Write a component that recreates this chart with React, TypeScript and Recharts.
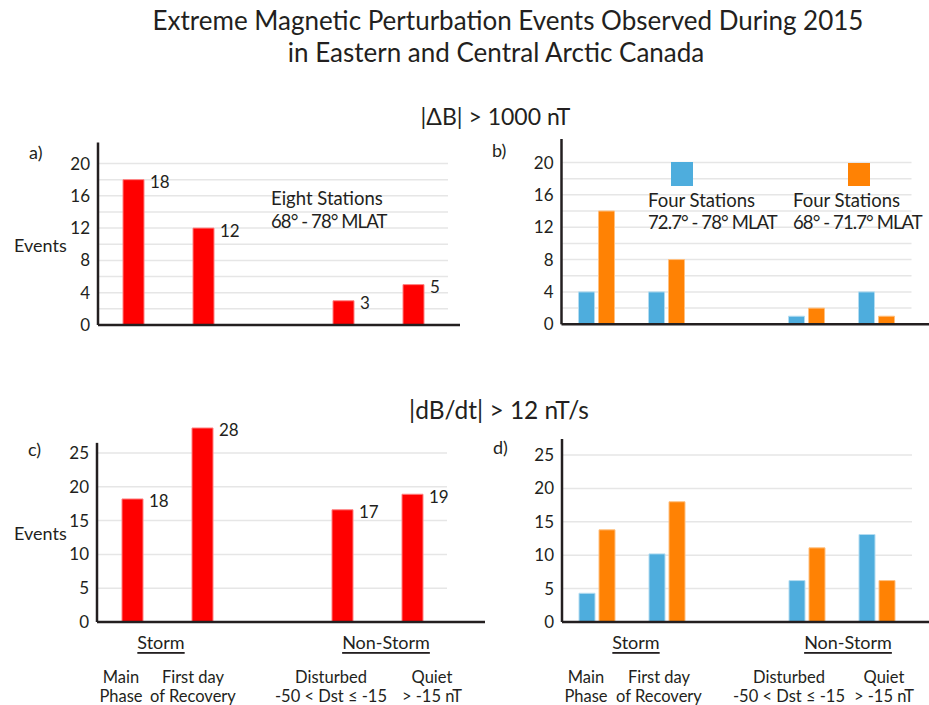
import React from 'react';
import { BarChart, Bar, XAxis, YAxis, CartesianGrid, ReferenceLine, Legend, LabelList } from 'recharts';

const FONT = 'Lato, "Noto Sans", sans-serif';
const INK = '#231f20';
const RED = '#ff0000';
const BLUE = '#4eaddd';
const ORANGE = '#ff8204';
const GRID = '#e6e6e6';

// ---------- data ----------
const categories = ['main', 'recovery', 'gap', 'disturbed', 'quiet'];
const phaseLine1 = ['Main', 'First day', '', 'Disturbed', 'Quiet'];
const phaseLine2 = ['Phase', 'of Recovery', '', '-50 < Dst ≤ -15', '> -15 nT'];
const groupLabels = ['Storm', '', '', 'Non-Storm', ''];

// a) |ΔB| > 1000 nT, eight stations
const aValues = [18, 12, null, 3, 5];
const aLabels = [18, 12, null, 3, 5];
// b) |ΔB| > 1000 nT, high / low latitude groups
const bHigh = [4, 4, null, 1, 4];
const bLow = [14, 8, null, 2, 1];
// c) |dB/dt| > 12 nT/s, eight stations
const cValues = [18.2, 28.7, null, 16.6, 18.9];
const cLabels = [18, 28, null, 17, 19];
// d) |dB/dt| > 12 nT/s, high / low latitude groups
const dHigh = [4.3, 10.2, null, 6.2, 13.1];
const dLow = [13.8, 18, null, 11.1, 6.2];

const abGridValues = [0, 2, 4, 6, 8, 10, 12, 14, 16, 18, 20];
const abTickLabels = [0, 4, 8, 12, 16, 20];
const cdGridValues = [0, 5, 10, 15, 20, 25];
const cdTickLabels = [0, 5, 10, 15, 20, 25];

const singleSeries = [{ key: 'v', name: 'Eight Stations', range: '68° - 78° MLAT', color: RED, edge: '#ff8080' }];
const pairSeries = [
  { key: 'high', name: 'Four Stations', range: '72.7° - 78° MLAT', color: BLUE, edge: '#b3dcf1' },
  { key: 'low', name: 'Four Stations', range: '68° - 71.7° MLAT', color: ORANGE, edge: '#ffc080' },
];

const aData = categories.map((c, i) => ({ cat: c, v: aValues[i], label: aLabels[i] }));
const bData = categories.map((c, i) => ({ cat: c, high: bHigh[i], low: bLow[i] }));
const cData = categories.map((c, i) => ({ cat: c, v: cValues[i], label: cLabels[i] }));
const dData = categories.map((c, i) => ({ cat: c, high: dHigh[i], low: dLow[i] }));

// ---------- components ----------
const ValueLabel = (p: any) => {
  if (p.value === null || p.value === undefined) return null;
  return (
    <text
      x={Number(p.x) + Number(p.width) + 6}
      y={Number(p.y) + 2}
      dominantBaseline="central"
      fontSize={17}
      fontFamily={FONT}
      fill={INK}
    >
      {p.value}
    </text>
  );
};

const PhaseTick = (props: any) => {
  const { x, y, payload, shifts, groupShifts } = props;
  const i = payload.index ?? props.index;
  const half = typeof payload.offset === 'number' && payload.offset > 0 ? payload.offset : 35;
  const cx = x + shifts[i];
  const common = { fontFamily: FONT, fill: INK, textAnchor: 'middle' as const, dominantBaseline: 'central' as const };
  return (
    <g>
      {groupLabels[i] ? (
        <text x={x + half + groupShifts[i]} y={y + 20} fontSize={18} style={{ textDecoration: 'underline' }} {...common}>
          {groupLabels[i]}
        </text>
      ) : null}
      {phaseLine1[i] ? (
        <text x={cx} y={y + 55} fontSize={16.5} {...common}>
          {phaseLine1[i]}
        </text>
      ) : null}
      {phaseLine2[i] ? (
        <text x={cx} y={y + 74} fontSize={16.5} {...common}>
          {phaseLine2[i]}
        </text>
      ) : null}
    </g>
  );
};

type LegendSpot = { textX: number; y1: number; y2: number; swatch?: { x: number; y: number; w: number; h: number } };

const makeLegend = (series: any[], spots: LegendSpot[]) => (props: any) => {
  const payload = props.payload && props.payload.length ? props.payload : series.map((s) => ({ value: s.name, color: s.color }));
  return (
    <div style={{ position: 'relative', width: 0, height: 0 }}>
      {payload.map((entry: any, i: number) => {
        const spot = spots[i];
        const s = series[i];
        if (!spot || !s) return null;
        const txt: React.CSSProperties = {
          position: 'absolute',
          left: spot.textX,
          fontFamily: FONT,
          fontSize: 18.5,
          lineHeight: '22px',
          color: INK,
          whiteSpace: 'nowrap',
        };
        return (
          <React.Fragment key={i}>
            {spot.swatch ? (
              <div
                style={{
                  position: 'absolute',
                  left: spot.swatch.x,
                  top: spot.swatch.y,
                  width: spot.swatch.w,
                  height: spot.swatch.h,
                  background: s.color,
                }}
              />
            ) : null}
            <div style={{ ...txt, top: spot.y1 - 11 }}>{entry.value ?? s.name}</div>
            <div style={{ ...txt, top: spot.y2 - 11, letterSpacing: '-0.9px' }}>{s.range}</div>
          </React.Fragment>
        );
      })}
    </div>
  );
};

type PanelProps = {
  left: number;
  top: number;
  width: number;
  height: number;
  margin: { top: number; right: number; bottom: number; left: number };
  data: any[];
  series: any[];
  yMax: number;
  axisTop: number;
  axisEnd: number;
  xMax: number;
  gridValues: number[];
  tickLabels: number[];
  barSize: number;
  withLabels: boolean;
  showX: boolean;
  shifts?: number[];
  groupShifts?: number[];
  legendSpots?: LegendSpot[];
};

const Panel = (p: PanelProps) => (
  <div style={{ position: 'absolute', left: p.left, top: p.top, width: p.width, height: p.height }}>
    <BarChart width={p.width} height={p.height} data={p.data} margin={p.margin} barGap={4} barCategoryGap={0}>
      <CartesianGrid vertical={false} stroke={GRID} strokeWidth={1.5} horizontalValues={p.gridValues} />
      <XAxis
        dataKey="cat"
        hide={!p.showX}
        height={p.showX ? 80 : 0}
        axisLine={false}
        tickLine={false}
        tickSize={0}
        tickMargin={0}
        interval={0}
        tick={p.showX ? (t: any) => <PhaseTick {...t} shifts={p.shifts} groupShifts={p.groupShifts} /> : false}
      />
      <XAxis xAxisId="n" type="number" domain={[0, 5]} allowDataOverflow hide />
      <YAxis
        width={50}
        domain={[0, p.yMax]}
        ticks={p.gridValues}
        interval={0}
        axisLine={false}
        tickLine={false}
        tickSize={0}
        tickMargin={8}
        tick={{ fill: INK, fontSize: 17, fontFamily: FONT }}
        tickFormatter={(v: number) => (p.tickLabels.includes(v) ? String(v) : '')}
      />
      {p.legendSpots ? (
        <Legend
          layout="horizontal"
          verticalAlign="middle"
          align="center"
          wrapperStyle={{ left: 0, top: 0, width: 0, height: 0 }}
          content={makeLegend(p.series, p.legendSpots)}
        />
      ) : null}
      {p.series.map((s) => (
        <Bar
          key={s.key}
          dataKey={s.key}
          name={s.name}
          fill={s.color}
          stroke={s.edge}
          strokeWidth={1}
          barSize={p.barSize}
          isAnimationActive={false}
        >
          {p.withLabels ? <LabelList dataKey="label" content={ValueLabel} /> : null}
        </Bar>
      ))}
      <ReferenceLine
        xAxisId="n"
        segment={[{ x: 0, y: 0 }, { x: p.axisEnd, y: 0 }]}
        stroke={INK}
        strokeWidth={2.5}
        ifOverflow="visible"
      />
      <ReferenceLine
        xAxisId="n"
        segment={[{ x: 0, y: 0 }, { x: 0, y: p.axisTop }]}
        stroke={INK}
        strokeWidth={2.5}
        ifOverflow="visible"
      />
    </BarChart>
  </div>
);

const textStyle = { fontFamily: FONT, fill: INK };

export default function App() {
  return (
    <div style={{ position: 'absolute', left: 0, top: 0, width: 929, height: 705, background: '#fff', overflow: 'hidden' }}>
      <Panel
        left={0}
        top={100}
        width={460}
        height={240}
        margin={{ top: 42.5, right: 12, bottom: 15, left: 48 }}
        data={aData}
        series={singleSeries}
        yMax={22.6}
        axisTop={22.6}
        axisEnd={4.55}
        xMax={5}
        gridValues={abGridValues}
        tickLabels={abTickLabels}
        barSize={21}
        withLabels
        showX={false}
        legendSpots={[{ textX: 271, y1: 98, y2: 121 }]}
      />
      <Panel
        left={460}
        top={100}
        width={469}
        height={240}
        margin={{ top: 39, right: 17.5, bottom: 15.7, left: 51.5 }}
        data={bData}
        series={pairSeries}
        yMax={22.9}
        axisTop={22.9}
        axisEnd={4.74}
        xMax={5}
        gridValues={abGridValues}
        tickLabels={abTickLabels}
        barSize={16}
        withLabels={false}
        showX={false}
        legendSpots={[
          { textX: 188, y1: 100, y2: 122, swatch: { x: 211, y: 62, w: 22, h: 24 } },
          { textX: 333, y1: 100, y2: 122, swatch: { x: 388, y: 63, w: 22, h: 23 } },
        ]}
      />
      <Panel
        left={0}
        top={400}
        width={485}
        height={305}
        margin={{ top: 19.2, right: 38, bottom: 3, left: 47 }}
        data={cData}
        series={singleSeries}
        yMax={30}
        axisTop={26.5}
        axisEnd={4.6}
        xMax={5}
        gridValues={cdGridValues}
        tickLabels={cdTickLabels}
        barSize={21}
        withLabels
        showX
        shifts={[-11, -9, 0, -11, 20]}
        groupShifts={[-6, 0, 0, 9, 0]}
      />
      <Panel
        left={460}
        top={400}
        width={469}
        height={305}
        margin={{ top: 39, right: 17, bottom: 3, left: 52 }}
        data={dData}
        series={pairSeries}
        yMax={27.4}
        axisTop={27.4}
        axisEnd={4.73}
        xMax={5}
        gridValues={cdGridValues}
        tickLabels={cdTickLabels}
        barSize={16}
        withLabels={false}
        showX
        shifts={[-11, -8, 0, -18, 7]}
        groupShifts={[4, 0, 0, 6, 0]}
      />
      <svg width={929} height={705} style={{ position: 'absolute', left: 0, top: 0, pointerEvents: 'none' }}>
        <text x={508} y={30} textAnchor="middle" fontSize={26} {...textStyle}>
          Extreme Magnetic Perturbation Events Observed During 2015
        </text>
        <text x={496} y={62} textAnchor="middle" fontSize={26} {...textStyle}>
          in Eastern and Central Arctic Canada
        </text>
        <text x={495.5} y={125} textAnchor="middle" fontSize={23} {...textStyle}>
          |ΔB| &gt; 1000 nT
        </text>
        <text x={499} y={419} textAnchor="middle" fontSize={24.5} {...textStyle}>
          |dB/dt| &gt; 12 nT/s
        </text>
        <text x={29} y={152} dominantBaseline="central" fontSize={18} {...textStyle}>a)</text>
        <text x={492} y={150} dominantBaseline="central" fontSize={18} {...textStyle}>b)</text>
        <text x={28} y={449} dominantBaseline="central" fontSize={18} {...textStyle}>c)</text>
        <text x={493} y={447} dominantBaseline="central" fontSize={18} {...textStyle}>d)</text>
        <text x={14} y={245} dominantBaseline="central" fontSize={18} {...textStyle}>Events</text>
        <text x={14} y={533} dominantBaseline="central" fontSize={18} {...textStyle}>Events</text>
      </svg>
    </div>
  );
}
